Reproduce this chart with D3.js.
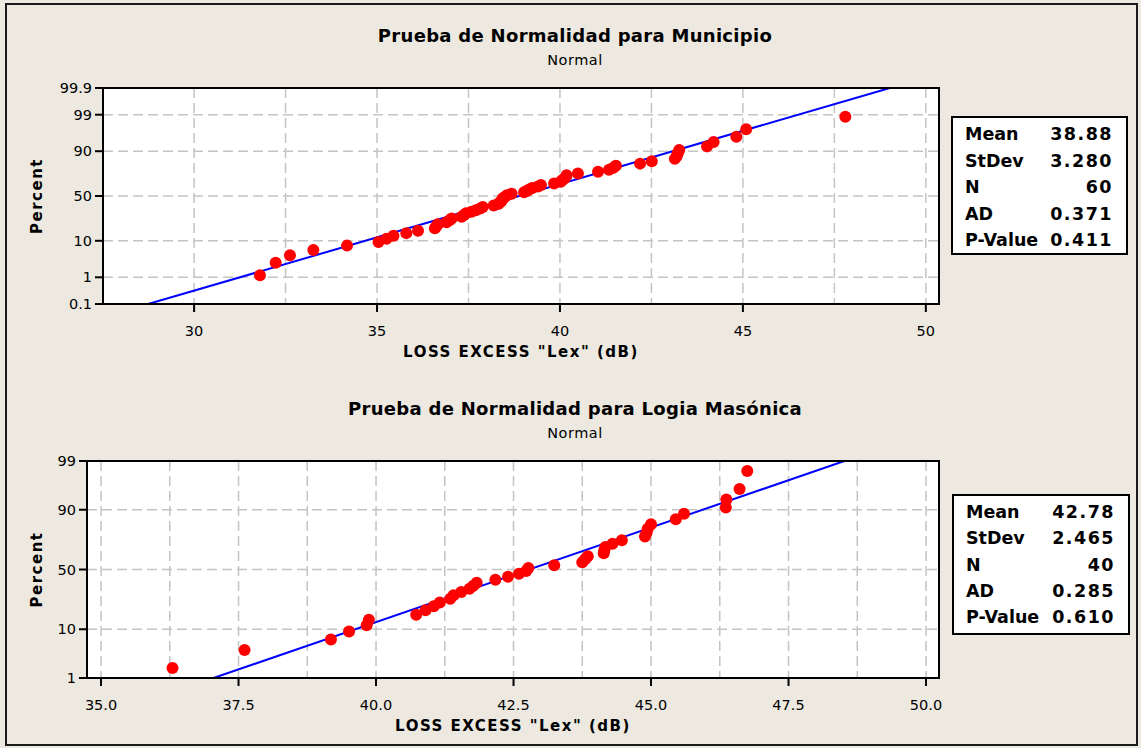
<!DOCTYPE html>
<html lang="es">
<head>
<meta charset="UTF-8">
<title>Prueba de Normalidad</title>
<script src="https://d3js.org/d3.v7.min.js"></script>
<style>
  body { margin: 0; background: #ede9e0; }
  svg { display: block; font-family: 'DejaVu Sans', sans-serif; fill: #000; }
  .title { font-weight: bold; font-size: 18px; letter-spacing: 0.3px; }
  .subtitle { font-size: 14.5px; letter-spacing: 0.5px; }
  .axis-label { font-weight: bold; font-size: 15px; letter-spacing: 1.5px; }
  .tick { font-size: 14.5px; }
  .stat { font-weight: bold; font-size: 17.5px; }
  .grid { stroke: #c4c4c4; stroke-width: 1.5; stroke-dasharray: 10 5; }
</style>
</head>
<body>
<svg id="chart" width="1141" height="748"></svg>
<script>
// LOSS EXCESS values (dB)
const municipioValues = [
  31.80, 32.23, 32.62, 33.26, 34.18, 35.04, 35.26, 35.45, 35.80, 36.12,
  36.58, 36.62, 36.66, 36.90, 36.98, 37.04, 37.31, 37.38, 37.43, 37.58,
  37.70, 37.82, 37.89, 38.19, 38.31, 38.36, 38.40, 38.42, 38.44, 38.50,
  38.55, 38.68, 39.02, 39.09, 39.16, 39.24, 39.40, 39.48, 39.84, 40.02,
  40.06, 40.12, 40.16, 40.18, 40.49, 41.04, 41.34, 41.46, 41.53, 42.19,
  42.51, 43.14, 43.19, 43.22, 43.26, 44.02, 44.20, 44.82, 45.09, 47.80
];
const logiaValues = [
  36.30, 37.61, 39.18, 39.51, 39.83, 39.87, 40.73, 40.90, 41.05, 41.16,
  41.35, 41.41, 41.55, 41.70, 41.77, 41.83, 42.17, 42.40, 42.60, 42.73,
  42.77, 43.24, 43.75, 43.80, 43.85, 44.14, 44.15, 44.17, 44.30, 44.47,
  44.89, 44.92, 44.94, 45.00, 45.45, 45.60, 46.36, 46.37, 46.61, 46.75
];

const statLabels = ["Mean", "StDev", "N", "AD", "P-Value"];
const municipioStats = ["38.88", "3.280", "60", "0.371", "0.411"];
const logiaStats = ["42.78", "2.465", "40", "0.285", "0.610"];
const municipioMean = 38.88, municipioSd = 3.280;
const logiaMean = 42.78, logiaSd = 2.465;

const municipioXTicks = [30, 35, 40, 45, 50];
const municipioXGrid = [30, 32.5, 35, 37.5, 40, 42.5, 45, 47.5, 50];
const municipioPctTicks = [0.1, 1, 10, 50, 90, 99, 99.9];
const logiaXTicks = [35, 37.5, 40, 42.5, 45, 47.5, 50];
const logiaXGrid = [35, 36.25, 37.5, 38.75, 40, 41.25, 42.5, 43.75, 45, 46.25, 47.5, 48.75, 50];
const logiaPctTicks = [1, 10, 50, 90, 99];

const xLabel = 'LOSS EXCESS "Lex" (dB)';

// inverse normal cdf (Acklam)
function qnorm(p) {
  const a = [-3.969683028665376e+01, 2.209460984245205e+02, -2.759285104469687e+02, 1.383577518672690e+02, -3.066479806614716e+01, 2.506628277459239e+00];
  const b = [-5.447609879822406e+01, 1.615858368580409e+02, -1.556989798598866e+02, 6.680131188771972e+01, -1.328068155288572e+01];
  const c = [-7.784894002430293e-03, -3.223964580411365e-01, -2.400758277161838e+00, -2.549732539343734e+00, 4.374664141464968e+00, 2.938163982698783e+00];
  const d = [7.784695709041462e-03, 3.224671290700398e-01, 2.445134137142996e+00, 3.754408661907416e+00];
  const pl = 0.02425;
  let q, r;
  if (p < pl) {
    q = Math.sqrt(-2 * Math.log(p));
    return (((((c[0]*q+c[1])*q+c[2])*q+c[3])*q+c[4])*q+c[5]) / ((((d[0]*q+d[1])*q+d[2])*q+d[3])*q+1);
  }
  if (p > 1 - pl) {
    q = Math.sqrt(-2 * Math.log(1 - p));
    return -(((((c[0]*q+c[1])*q+c[2])*q+c[3])*q+c[4])*q+c[5]) / ((((d[0]*q+d[1])*q+d[2])*q+d[3])*q+1);
  }
  q = p - 0.5; r = q * q;
  return (((((a[0]*r+a[1])*r+a[2])*r+a[3])*r+a[4])*r+a[5])*q / (((((b[0]*r+b[1])*r+b[2])*r+b[3])*r+b[4])*r+1);
}

const svg = d3.select("#chart");

// outer frame
svg.append("rect")
  .attr("x", 6).attr("y", 4).attr("width", 1131).attr("height", 741)
  .attr("fill", "#ede9e0").attr("stroke", "#1a1a1a").attr("stroke-width", 2);

function drawPanel(cfg) {
  const g = svg.append("g");
  const x = d3.scaleLinear().domain(cfg.xDomain).range([cfg.left, cfg.right]);
  const y = d3.scaleLinear()
    .domain([qnorm(cfg.pctTicks[0] / 100), qnorm(cfg.pctTicks[cfg.pctTicks.length - 1] / 100)])
    .range([cfg.bottom, cfg.top]);
  const n = cfg.values.length;
  // median ranks, as Minitab plots them
  const pts = cfg.values.slice().sort(d3.ascending)
    .map((v, i) => ({v, z: qnorm((i + 1 - 0.3) / (n + 0.4))}));

  g.append("text").attr("class", "title").attr("x", cfg.cx).attr("y", cfg.titleY)
    .attr("text-anchor", "middle").text(cfg.title);
  g.append("text").attr("class", "subtitle").attr("x", cfg.cx).attr("y", cfg.titleY + 23)
    .attr("text-anchor", "middle").text("Normal");

  g.append("rect")
    .attr("x", cfg.left).attr("y", cfg.top)
    .attr("width", cfg.right - cfg.left).attr("height", cfg.bottom - cfg.top)
    .attr("fill", "#fff");

  const clipId = "clip-" + cfg.id;
  g.append("clipPath").attr("id", clipId).append("rect")
    .attr("x", cfg.left).attr("y", cfg.top)
    .attr("width", cfg.right - cfg.left).attr("height", cfg.bottom - cfg.top);

  g.append("g").selectAll("line").data(cfg.xGrid).join("line")
    .attr("class", "grid")
    .attr("x1", d => x(d)).attr("x2", d => x(d))
    .attr("y1", cfg.top).attr("y2", cfg.bottom);
  g.append("g").selectAll("line").data(cfg.pctTicks.slice(1, -1)).join("line")
    .attr("class", "grid")
    .attr("x1", cfg.left).attr("x2", cfg.right)
    .attr("y1", d => y(qnorm(d / 100))).attr("y2", d => y(qnorm(d / 100)));

  // fitted normal line
  const zExt = y.domain();
  g.append("line")
    .attr("clip-path", `url(#${clipId})`)
    .attr("x1", x(cfg.mean + zExt[0] * cfg.sd)).attr("y1", y(zExt[0]))
    .attr("x2", x(cfg.mean + zExt[1] * cfg.sd)).attr("y2", y(zExt[1]))
    .attr("stroke", "#0000ff").attr("stroke-width", 2);

  g.append("g").selectAll("circle").data(pts).join("circle")
    .attr("cx", d => x(d.v)).attr("cy", d => y(d.z)).attr("r", 6)
    .attr("fill", "#ff0000");

  g.append("rect")
    .attr("x", cfg.left).attr("y", cfg.top)
    .attr("width", cfg.right - cfg.left).attr("height", cfg.bottom - cfg.top)
    .attr("fill", "none").attr("stroke", "#000").attr("stroke-width", 2);

  // x ticks
  const xt = g.append("g").selectAll("g").data(cfg.xTicks).join("g");
  xt.append("line")
    .attr("x1", d => x(d)).attr("x2", d => x(d))
    .attr("y1", cfg.bottom).attr("y2", cfg.bottom + 8)
    .attr("stroke", "#000").attr("stroke-width", 2);
  xt.append("text").attr("class", "tick")
    .attr("x", d => x(d)).attr("y", cfg.bottom + 32)
    .attr("text-anchor", "middle").text(d => d3.format(cfg.xFormat)(d));

  // y ticks
  const yt = g.append("g").selectAll("g").data(cfg.pctTicks).join("g");
  yt.append("line")
    .attr("x1", cfg.left - 8).attr("x2", cfg.left)
    .attr("y1", d => y(qnorm(d / 100))).attr("y2", d => y(qnorm(d / 100)))
    .attr("stroke", "#000").attr("stroke-width", 2);
  yt.append("text").attr("class", "tick")
    .attr("x", cfg.left - 11).attr("y", d => y(qnorm(d / 100)) + 5)
    .attr("text-anchor", "end").text(d => d);

  g.append("text").attr("class", "axis-label")
    .attr("x", (cfg.left + cfg.right) / 2).attr("y", cfg.bottom + 53)
    .attr("text-anchor", "middle").text(xLabel);
  g.append("text").attr("class", "axis-label")
    .attr("transform", `translate(42,${(cfg.top + cfg.bottom) / 2}) rotate(-90)`)
    .attr("text-anchor", "middle").text("Percent");

  // stats box
  const b = cfg.box;
  g.append("rect").attr("x", b.x).attr("y", b.y).attr("width", b.w).attr("height", b.h)
    .attr("fill", "#fff").attr("stroke", "#000").attr("stroke-width", 2);
  const rows = g.append("g").selectAll("g").data(statLabels).join("g");
  rows.append("text").attr("class", "stat")
    .attr("x", b.x + 13).attr("y", (d, i) => b.y + 23 + i * b.step)
    .text(d => d);
  rows.append("text").attr("class", "stat")
    .attr("x", b.x + b.w - 14).attr("y", (d, i) => b.y + 23 + i * b.step)
    .attr("text-anchor", "end").style("letter-spacing", "1.5px")
    .text((d, i) => cfg.stats[i]);
}

drawPanel({
  id: "mun", title: "Prueba de Normalidad para Municipio", cx: 575, titleY: 42,
  values: municipioValues, mean: municipioMean, sd: municipioSd, stats: municipioStats,
  left: 103, right: 939, top: 88, bottom: 304, xDomain: [27.51, 50.36],
  xTicks: municipioXTicks, xGrid: municipioXGrid, pctTicks: municipioPctTicks, xFormat: "d",
  box: {x: 952, y: 117, w: 175, h: 137, step: 26.5}
});

drawPanel({
  id: "log", title: "Prueba de Normalidad para Logia Masónica", cx: 575, titleY: 415,
  values: logiaValues, mean: logiaMean, sd: logiaSd, stats: logiaStats,
  left: 87, right: 939, top: 461, bottom: 678, xDomain: [34.745, 50.236],
  xTicks: logiaXTicks, xGrid: logiaXGrid, pctTicks: logiaPctTicks, xFormat: ".1f",
  box: {x: 953, y: 495, w: 176, h: 139, step: 26.3}
});
</script>
</body>
</html>
